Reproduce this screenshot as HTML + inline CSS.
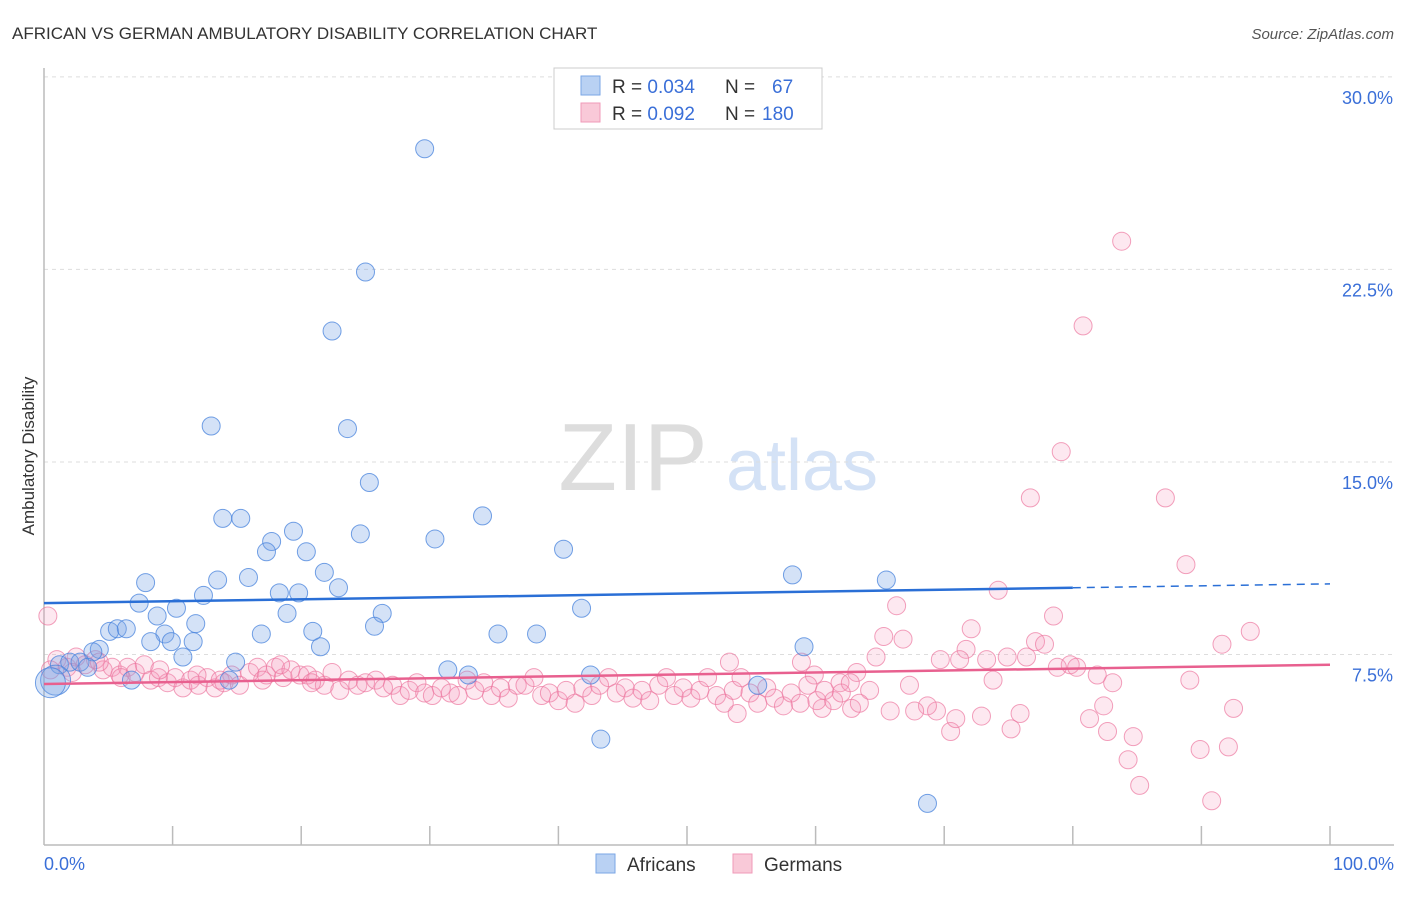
<!DOCTYPE html>
<html><head><meta charset="utf-8"><style>
body{margin:0;background:#fff;font-family:"Liberation Sans",sans-serif;}
svg text{font-family:"Liberation Sans",sans-serif;}
</style></head><body>
<svg id="chart" width="1406" height="892">
<text x="12" y="39" font-size="17" fill="#333">AFRICAN VS GERMAN AMBULATORY DISABILITY CORRELATION CHART</text>
<text x="1394" y="39" font-size="15" fill="#555" text-anchor="end" font-style="italic">Source: ZipAtlas.com</text>
<g>
<text x="633" y="490" font-size="96" fill="#ddd" text-anchor="middle" font-family="Liberation Serif">ZIP</text>
<text x="802" y="490" font-size="72" fill="#d4e2f6" text-anchor="middle">atlas</text>
</g>
<g id="grid"></g>
<line x1="44" y1="68" x2="44" y2="845" stroke="#bbb" stroke-width="1.5"/>
<line x1="44" y1="845" x2="1394" y2="845" stroke="#bbb" stroke-width="1.5"/>
<g id="xticks"></g>
<text x="44" y="870" font-size="18" fill="#3a6fd8">0.0%</text>
<text x="1394" y="870" font-size="18" fill="#3a6fd8" text-anchor="end">100.0%</text>
<text transform="translate(34,456) rotate(-90)" font-size="17" fill="#333" text-anchor="middle">Ambulatory Disability</text>
<g id="pink"></g><g id="blue"></g><g id="trends"></g>
<g>
<rect x="554" y="68" width="268" height="61" fill="#fff" stroke="#ccc"/>
<rect x="581" y="76" width="19" height="19" fill="#b9d1f3" stroke="#7aa6e6"/>
<rect x="581" y="103" width="19" height="19" fill="#f9c9d8" stroke="#f09ab8"/>
<text x="612" y="93" font-size="19" fill="#333">R = <tspan fill="#3a6fd8">0.034</tspan><tspan x="725">N =</tspan><tspan x="772" fill="#3a6fd8">67</tspan></text>
<text x="612" y="120" font-size="19" fill="#333">R = <tspan fill="#3a6fd8">0.092</tspan><tspan x="725">N =</tspan><tspan x="762" fill="#3a6fd8">180</tspan></text>
</g>
<g>
<rect x="596" y="854" width="19" height="19" fill="#b9d1f3" stroke="#7aa6e6"/>
<text x="627" y="871" font-size="19" fill="#333">Africans</text></g>
<g>
<rect x="733" y="854" width="19" height="19" fill="#f9c9d8" stroke="#f09ab8"/>
<text x="764" y="871" font-size="19" fill="#333">Germans</text></g>
</svg>
<script>
const yTicks=[7.5,15,22.5,30];
const yTickLabels=["7.5%","15.0%","22.5%","30.0%"];
const xTicks=[10,20,30,40,50,60,70,80,90,100];
const blueX=[29.6,25.0,22.4,13.0,23.6,25.3,13.9,15.3,34.1,19.4,24.6,30.4,17.7,17.3,20.4,40.4,21.8,15.9,13.5,7.9,58.2,65.5,22.9,12.4,18.3,19.8,7.4,10.3,26.3,41.8,8.8,18.9,11.8,25.7,5.1,5.7,6.4,9.4,16.9,20.9,35.3,38.3,8.3,9.9,11.6,59.1,21.5,4.3,3.8,10.8,14.9,1.2,2.0,2.8,3.4,31.4,33.0,42.5,6.8,14.4,55.5,0.9,0.5,43.3,68.7];
const blueY=[27.2,22.4,20.1,16.4,16.3,14.2,12.8,12.8,12.9,12.3,12.2,12.0,11.9,11.5,11.5,11.6,10.7,10.5,10.4,10.3,10.6,10.4,10.1,9.8,9.9,9.9,9.5,9.3,9.1,9.3,9.0,9.1,8.7,8.6,8.4,8.5,8.5,8.3,8.3,8.4,8.3,8.3,8.0,8.0,8.0,7.8,7.8,7.7,7.6,7.4,7.2,7.1,7.2,7.2,7.0,6.9,6.7,6.7,6.5,6.5,6.3,6.5,6.4,4.2,1.7];
const pinkX=[83.8,80.8,79.1,76.7,87.2,88.8,74.2,0.3,66.3,78.5,91.6,93.8,72.1,65.3,66.8,77.1,77.8,71.7,81.3,82.4,82.7,84.7,84.3,85.2,89.9,92.1,90.8,92.5,89.1,83.1,81.9,79.8,80.3,78.8,75.2,75.9,72.9,70.5,70.9,69.4,68.7,67.7,65.8,62.8,60.5,53.9,73.8,69.7,71.2,73.3,74.9,76.4,64.7,63.2,58.9,59.9,53.3,67.3,64.2,61.9,
1.0,1.8,2.5,3.2,4.0,4.6,5.3,5.9,6.5,7.1,7.8,8.3,8.9,9.6,10.2,10.8,11.4,12.0,12.7,13.3,14.0,14.6,15.2,16.0,16.6,17.3,18.0,18.6,19.2,19.9,20.5,21.1,21.8,22.4,23.0,23.7,24.4,25.0,25.8,26.4,27.1,27.7,28.4,29.0,29.6,30.2,30.9,31.6,32.2,32.9,33.5,34.2,34.8,35.5,36.1,36.8,37.4,38.1,38.7,39.3,40.0,40.6,41.3,41.9,42.6,43.2,43.9,44.5,45.2,45.8,46.5,47.1,47.8,48.4,49.0,49.7,50.3,51.0,51.6,52.3,52.9,53.6,54.2,54.9,55.5,56.2,56.8,57.5,58.1,58.8,59.4,60.1,60.7,61.4,62.0,62.7,63.4,0.5,2.2,4.3,6.0,9.0,11.9,13.7,17.0,18.4,20.8];
const pinkY=[23.6,20.3,15.4,13.6,13.6,11.0,10.0,9.0,9.4,9.0,7.9,8.4,8.5,8.2,8.1,8.0,7.9,7.7,5.0,5.5,4.5,4.3,3.4,2.4,3.8,3.9,1.8,5.4,6.5,6.4,6.7,7.1,7.0,7.0,4.6,5.2,5.1,4.5,5.0,5.3,5.5,5.3,5.3,5.4,5.4,5.2,6.5,7.3,7.3,7.3,7.4,7.4,7.4,6.8,7.2,6.7,7.2,6.3,6.1,6.4,
7.3,7.0,7.4,7.1,7.3,6.9,7.0,6.7,7.0,6.8,7.1,6.5,6.6,6.4,6.6,6.2,6.5,6.3,6.6,6.2,6.4,6.7,6.3,6.8,7.0,6.7,7.0,6.6,6.9,6.7,6.7,6.5,6.3,6.8,6.1,6.5,6.3,6.4,6.5,6.2,6.3,5.9,6.1,6.4,6.0,5.9,6.2,6.0,5.9,6.5,6.1,6.4,5.9,6.2,5.8,6.3,6.3,6.6,5.9,6.0,5.7,6.1,5.6,6.2,5.9,6.3,6.6,6.0,6.2,5.8,6.1,5.7,6.3,6.6,5.9,6.2,5.8,6.1,6.6,5.9,5.6,6.1,6.6,6.0,5.6,6.2,5.8,5.5,6.0,5.6,6.3,5.7,6.1,5.7,6.0,6.4,5.6,6.9,6.8,7.2,6.6,6.9,6.7,6.5,6.5,7.1,6.4];
const blueBig=[0.9,0.5];
const blueTrend=[[0,9.5],[80,10.1],[100,10.25]];
const pinkTrend=[[0,6.35],[100,7.1]];
const NS="http://www.w3.org/2000/svg";
const X=v=>44+v*12.86, Y=v=>847-v*25.67;
function mk(t,a,p){const e=document.createElementNS(NS,t);for(const k in a)e.setAttribute(k,a[k]);p.appendChild(e);return e;}
const grid=document.getElementById('grid');
yTicks.forEach((t,i)=>{
 const l=mk('line',{x1:44,x2:1394,y1:Y(t),y2:Y(t),stroke:'#ddd','stroke-dasharray':'4,4'},grid);
 
 
 const tx=mk('text',{x:1393,y:Y(t)+27,'font-size':18,fill:'#3a6fd8','text-anchor':'end'},grid);
 tx.textContent=yTickLabels[i];
 
 
});
const xt=document.getElementById('xticks');
xTicks.forEach(t=>{
 const l=mk('line',{x1:X(t),x2:X(t),y1:826,y2:845,stroke:'#bbb','stroke-width':1.5},xt);
 
 
});
const pg=document.getElementById('pink');
pinkX.forEach((x,i)=>{
 const c=mk('circle',{cx:X(x),cy:Y(pinkY[i]),r:9,fill:'rgba(244,150,185,0.22)',stroke:'rgba(236,120,160,0.7)','stroke-width':1},pg);
 
 
});
const bg=document.getElementById('blue');
blueX.forEach((x,i)=>{
 const r=blueBig.includes(x)?15:9;
 const c=mk('circle',{cx:X(x),cy:Y(blueY[i]),r:r,fill:'rgba(120,165,230,0.32)',stroke:'rgba(70,130,220,0.75)','stroke-width':1},bg);
 
 
});
const tg=document.getElementById('trends');
let b1=mk('line',{x1:X(blueTrend[0][0]),y1:Y(blueTrend[0][1]),x2:X(blueTrend[1][0]),y2:Y(blueTrend[1][1]),stroke:'#2a6fd6','stroke-width':2.5},tg);


let b2=mk('line',{x1:X(blueTrend[1][0]),y1:Y(blueTrend[1][1]),x2:X(blueTrend[2][0]),y2:Y(blueTrend[2][1]),stroke:'#2a6fd6','stroke-width':1.5,'stroke-dasharray':'8,6'},tg);


let p1=mk('line',{x1:X(pinkTrend[0][0]),y1:Y(pinkTrend[0][1]),x2:X(pinkTrend[1][0]),y2:Y(pinkTrend[1][1]),stroke:'#e8608f','stroke-width':2.5},tg);


</script>
</body></html>
